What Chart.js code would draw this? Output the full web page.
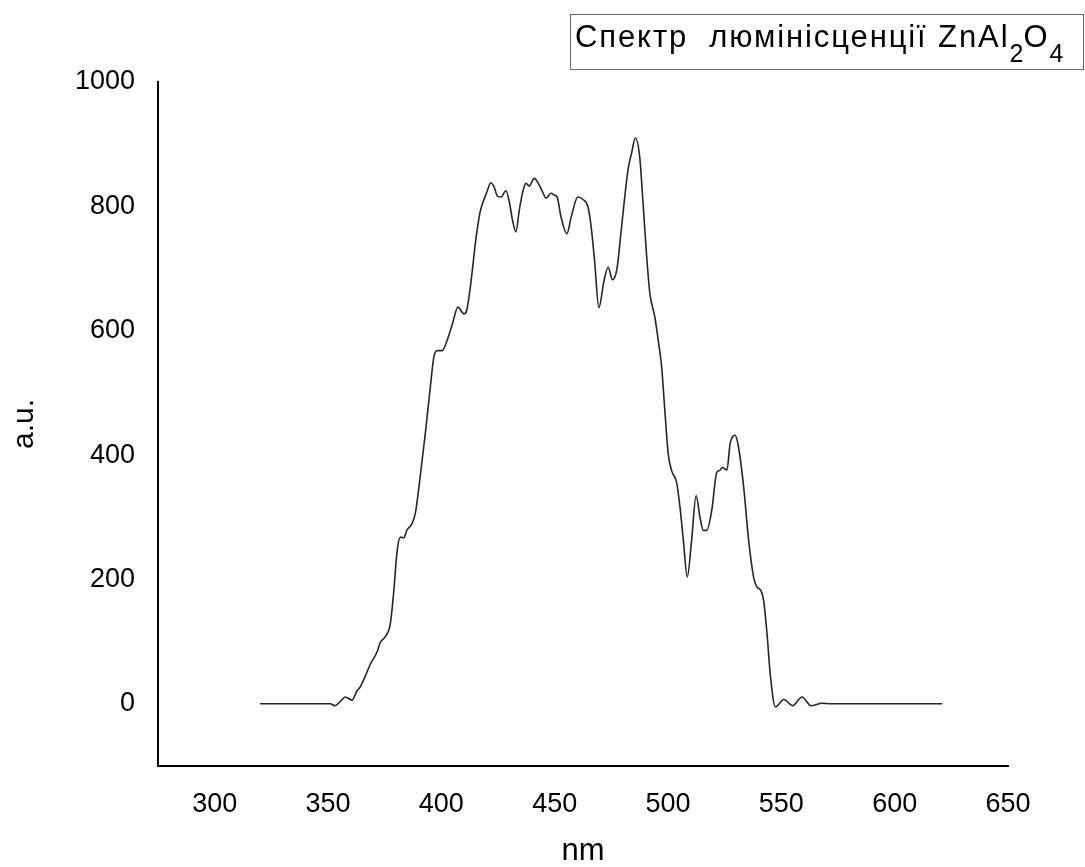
<!DOCTYPE html>
<html>
<head>
<meta charset="utf-8">
<script src="https://cdn.jsdelivr.net/npm/chart.js@4.4.1/dist/chart.umd.min.js"></script>
<style>
  body { margin: 0; background: #fff; }
  #wrap { position: relative; width: 1085px; height: 867px; }
  #title {
    position: absolute; left: 570px; top: 14px; width: 514px; height: 56px;
    border: 1px solid #666; box-sizing: border-box;
    font-family: "Liberation Sans", Arial, sans-serif; font-size: 31px; letter-spacing: 1.9px;
    line-height: 31px; padding: 6px 0 0 4px; color: #000; white-space: pre; overflow: visible;
  }
  #title sub { font-size: 25px; vertical-align: -15px; line-height: 0; letter-spacing: 0; }
</style>
</head>
<body>
<div id="wrap">
  <canvas id="spectrum" width="1085" height="867"></canvas>
  <div id="title">Спектр  люмінісценції ZnAl<sub>2</sub>O<sub>4</sub></div>
</div>
<script>
// довжина хвилі, nm
const wavelength = [
  320, 330, 340, 345, 351, 353, 355.5, 357.6, 360.6, 362.8, 364.2, 366.5, 368.7, 371.6, 373.1,
  375.3, 377.5, 379, 380.5, 382, 383.4, 384.9, 387.1, 388.6, 390.1, 393.1, 395.3, 396.7, 398.2,
  400.4, 402.6, 404.9, 407.3, 410, 411.2, 413, 415.2, 417, 418.2, 420.1, 421.8, 423.3, 424.8,
  426.3, 428.5, 430, 431.4, 432.9, 434.4, 435.9, 437.3, 438.8, 441, 442.5, 444.7, 446.2, 448.4,
  449.9, 451.1, 452.8, 455.4, 457.3, 460.2, 462.5, 464.7, 466.1, 467.6, 469.5, 471.8, 473.6,
  475.5, 477.5, 479.6, 482.4, 483.9, 485.6, 487.5, 489, 490.5, 492, 494.2, 495.7, 497.2, 498.6,
  500.1, 501.6, 503.8, 505.3, 506.8, 508.5, 510.4, 512.4, 514.1, 515.6, 517.1, 519.3, 521.5,
  522.7, 524, 526, 527.4, 529.6, 531.1, 533.4, 535.6, 537.8, 539.2, 541, 542.2, 543.7, 545.1,
  547.4, 551.1, 555, 559.1, 563.1, 568, 571.7, 580, 590, 600, 610, 621
];
// інтенсивність, a.u.
const intensity = [
  0, 0, 0, 0, 0, -3, 4, 11, 6, 21, 27, 45, 64, 83, 99,
  108, 129, 180, 246, 268, 267, 280, 290, 308, 348, 440, 515, 558, 568,
  568, 585, 611, 638, 627, 633, 676, 746, 789, 805, 823, 838, 831, 816,
  815, 825, 807, 778, 759, 794, 823, 837, 833, 845, 839, 823, 813, 821,
  818, 815, 783, 756, 783, 815, 811, 799, 767, 713, 637, 681, 702,
  682, 700, 770, 860, 885, 910, 880, 805, 724, 660, 622, 584, 542, 472,
  402, 375, 356, 316, 262, 204, 262, 335, 300, 279, 279, 311, 372,
  375, 380, 376, 418, 432, 413, 348, 262, 203, 188, 182, 166, 112, 48,
  -5, 7, -3, 11, -3, 1, 0, 0, 0, 0, 0, 0
];
const xTicks = [300, 350, 400, 450, 500, 550, 600, 650];
const yTicks = [0, 200, 400, 600, 800, 1000];

const points = wavelength.map((w, i) => ({ x: w, y: intensity[i] }));
const ctx = document.getElementById('spectrum').getContext('2d');

new Chart(ctx, {
  type: 'line',
  data: {
    datasets: [{
      data: points,
      borderColor: '#262626',
      borderWidth: 1.6,
      pointRadius: 0,
      fill: false,
      cubicInterpolationMode: 'monotone'
    }]
  },
  options: {
    responsive: false,
    animation: false,
    layout: { padding: { left: 0, top: 82, right: 77, bottom: 0 } },
    plugins: { legend: { display: false }, tooltip: { enabled: false } },
    scales: {
      x: {
        type: 'linear',
        min: 275,
        max: 650,
        afterBuildTicks: s => { s.ticks = xTicks.map(v => ({ value: v })); },
        afterFit: s => { s.height = 101; },
        grid: { display: false, drawTicks: false },
        border: { display: true, color: '#000', width: 2 },
        ticks: {
          padding: 22, color: '#000', font: { family: 'Liberation Sans', size: 27 },
          callback: v => String(v)
        },
        title: {
          display: true, text: 'nm', color: '#000',
          font: { family: 'Liberation Sans', size: 31, lineHeight: 1 },
          padding: { top: 0, bottom: 0 }
        }
      },
      y: {
        type: 'linear',
        min: -100,
        max: 1000,
        afterBuildTicks: s => { s.ticks = yTicks.map(v => ({ value: v })); },
        afterFit: s => { s.width = 158; },
        grid: { display: false, drawTicks: false },
        border: { display: true, color: '#000', width: 2 },
        ticks: {
          padding: 23, color: '#000', font: { family: 'Liberation Sans', size: 27 },
          callback: v => String(v)
        },
        title: {
          display: true, text: 'a.u.', color: '#000',
          font: { family: 'Liberation Sans', size: 30, lineHeight: 1 },
          padding: { top: 10, bottom: 0 }
        }
      }
    }
  }
});
</script>
</body>
</html>
